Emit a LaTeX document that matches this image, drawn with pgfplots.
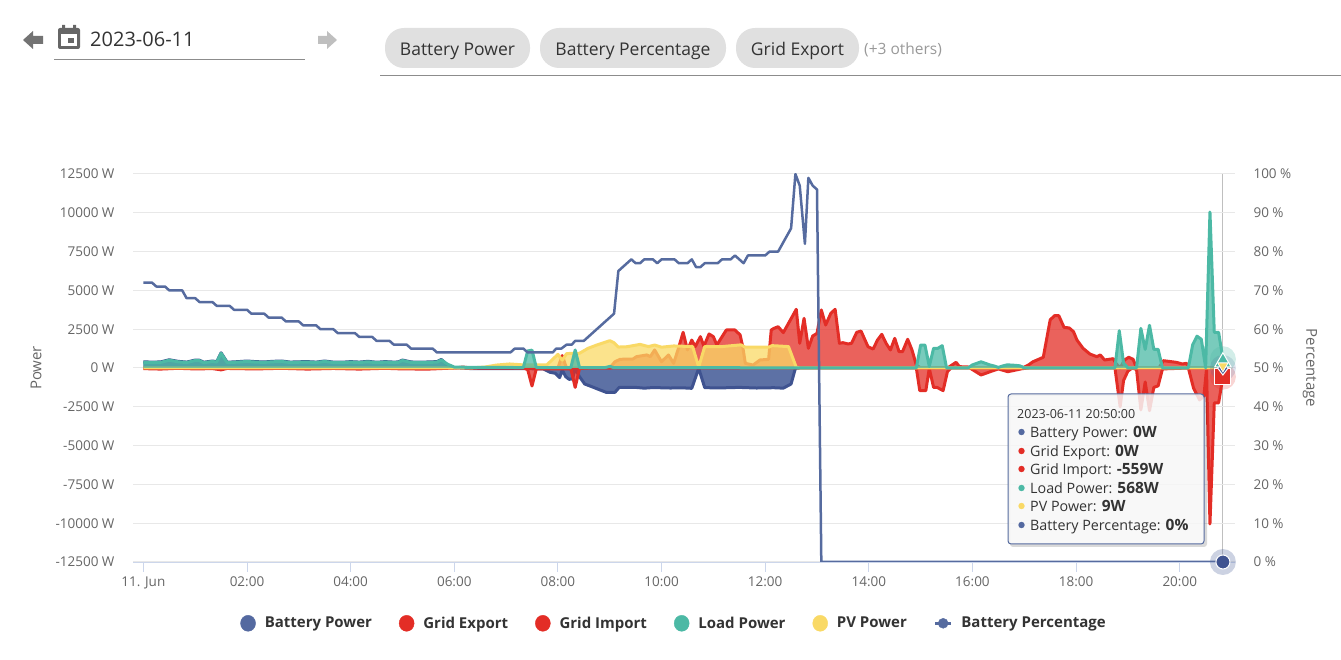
\documentclass[border=0pt]{standalone}
\usepackage{fontspec}
\setmainfont{Open Sans}
\usepackage{pgfplots}
\usepackage{pgfplotstable}
\pgfplotsset{compat=1.18}

\definecolor{cbat}{HTML}{5469A0}
\definecolor{cbatline}{HTML}{3F5390}
\definecolor{cred}{HTML}{E32D26}
\definecolor{cload}{HTML}{4CB9A5}
\definecolor{cpv}{HTML}{F9D966}
\definecolor{cpct}{HTML}{566B9F}
\definecolor{ctick}{HTML}{666666}
\definecolor{caxis}{HTML}{CCD6EB}
\definecolor{cgrid}{HTML}{E8E8E8}
\definecolor{ctext}{HTML}{333333}
\definecolor{cchip}{HTML}{E0E0E0}

% x is minutes after midnight, values in W
\pgfplotstableread[row sep=crcr]{
m w\\
0 395\\ 10 380\\ 20 390\\ 30 530\\ 40 430\\ 50 380\\ 60 510\\ 65 500\\ 70 370\\ 80 450\\ 85 410\\ 90 980\\ 97 370\\
110 410\\ 120 450\\ 130 410\\ 140 390\\ 150 430\\ 160 450\\ 170 380\\ 180 400\\ 190 410\\ 200 380\\ 210 450\\ 220 380\\
230 370\\ 240 410\\ 250 380\\ 260 430\\ 270 370\\ 280 410\\ 290 380\\ 295 390\\ 300 510\\ 310 390\\ 320 370\\ 330 390\\
340 410\\ 345 550\\ 352 200\\ 360 20\\ 380 -40\\ 440 -40\\ 463 -60\\ 471 -280\\ 477 -340\\ 482 -620\\ 485 -130\\ 489 -560\\
493 -730\\ 497 -700\\ 500 -40\\ 505 -560\\ 511 -1030\\ 519 -1200\\ 529 -1420\\ 536 -1570\\ 546 -1570\\ 551 -1250\\
570 -1250\\ 580 -1300\\ 590 -1260\\ 610 -1290\\ 625 -1280\\ 635 -1310\\ 643 -20\\ 650 -1270\\ 670 -1280\\ 690 -1250\\
710 -1290\\ 730 -1270\\ 741 -1300\\ 750 -1030\\ 755 -20\\ 760 0\\ 1250 0\\
}\tbat
\pgfplotstableread[row sep=crcr]{
m w\\
0 0\\ 360 0\\ 370 60\\ 380 0\\ 480 0\\ 485 800\\ 490 0\\ 540 0\\ 546 400\\ 552 560\\ 567 580\\ 571 730\\ 583 840\\ 587 730\\
592 1160\\ 600 400\\ 608 840\\ 614 300\\ 619 1160\\ 625 2300\\ 630 1160\\ 635 1800\\ 639 1375\\ 645 2020\\ 649 1400\\
655 2190\\ 660 2020\\ 664 1480\\ 675 2450\\ 685 2450\\ 691 2130\\ 694 1375\\ 697 300\\ 706 190\\ 714 515\\ 724 560\\
727 2450\\ 730 2550\\ 735 2660\\ 741 2280\\ 756 3780\\ 760 1590\\ 765 3200\\ 770 1270\\ 775 2060\\ 780 2230\\ 785 3740\\
790 2770\\ 796 3520\\ 801 3780\\ 806 1590\\ 810 1630\\ 816 1550\\ 820 1590\\ 826 2300\\ 831 2380\\ 839 1375\\ 845 1220\\
850 1800\\ 855 2170\\ 860 1590\\ 865 1160\\ 870 1910\\ 875 1050\\ 879 1050\\ 885 1850\\ 890 1160\\ 895 190\\ 900 0\\
932 30\\ 941 365\\ 945 85\\ 957 60\\ 965 0\\ 1018 0\\ 1025 200\\ 1030 400\\ 1042 690\\ 1050 3100\\ 1055 3370\\ 1060 3370\\
1066 2620\\ 1072 2580\\ 1077 2340\\ 1081 1800\\ 1088 1270\\ 1096 900\\ 1104 730\\ 1108 840\\ 1113 515\\ 1123 600\\ 1126 300\\
1131 0\\ 1134 300\\ 1136 515\\ 1141 690\\ 1146 560\\ 1150 0\\ 1176 0\\ 1181 470\\ 1196 365\\ 1203 260\\ 1208 300\\ 1211 0\\ 1250 0\\
}\texp
\pgfplotstableread[row sep=crcr]{
m w\\
0 -40\\ 20 -70\\ 40 -20\\ 60 -60\\ 80 -40\\ 90 -120\\ 97 -30\\ 130 -60\\ 160 -20\\ 190 -70\\ 220 -30\\ 250 -70\\ 280 -20\\
300 -60\\ 330 -70\\ 360 0\\ 440 0\\ 445 -100\\ 450 -1160\\ 455 -50\\ 495 -50\\ 500 -1250\\ 505 -30\\ 515 0\\ 895 0\\
899 -1460\\ 906 -1460\\ 910 -30\\ 915 -1250\\ 919 -1250\\ 926 -1460\\ 931 -240\\ 935 0\\ 957 0\\ 970 -450\\ 984 -170\\ 990 -60\\
1001 -240\\ 1018 -40\\ 1025 0\\ 1125 0\\ 1131 -2500\\ 1135 -800\\ 1140 -200\\ 1145 0\\ 1150 -100\\ 1155 -2700\\ 1160 -900\\
1165 -2750\\ 1170 -1250\\ 1175 -1150\\ 1180 -60\\ 1210 0\\ 1216 -1300\\ 1223 -2060\\ 1228 -1800\\ 1231 -60\\ 1235 -10050\\
1240 -2250\\ 1245 -2250\\ 1250 -559\\
}\timp
\pgfplotstableread[row sep=crcr]{
m w\\
0 10\\ 380 10\\ 395 60\\ 409 190\\ 424 260\\ 440 200\\ 455 200\\ 467 200\\ 471 400\\ 480 880\\ 485 500\\ 490 920\\ 495 945\\
500 950\\ 505 950\\ 515 1270\\ 525 1480\\ 540 1760\\ 545 1630\\ 550 1350\\ 560 1370\\ 575 1520\\ 585 1380\\ 592 1480\\
600 1340\\ 614 1420\\ 636 1380\\ 643 60\\ 650 1380\\ 670 1380\\ 692 1490\\ 697 1340\\ 724 1340\\ 728 1440\\ 747 1380\\
756 40\\ 760 10\\ 1250 9\\
}\tpv
\pgfplotstableread[row sep=crcr]{
m w\\
0 365\\ 10 350\\ 20 360\\ 30 500\\ 40 400\\ 50 350\\ 60 480\\ 65 470\\ 70 340\\ 80 420\\ 85 380\\ 90 950\\ 97 340\\
110 380\\ 120 420\\ 130 380\\ 140 360\\ 150 400\\ 160 420\\ 170 350\\ 180 370\\ 190 380\\ 200 350\\ 210 420\\ 220 350\\
230 340\\ 240 380\\ 250 350\\ 260 400\\ 270 340\\ 280 380\\ 290 350\\ 295 360\\ 300 480\\ 310 360\\ 320 340\\ 330 360\\
340 380\\ 345 520\\ 352 250\\ 360 60\\ 380 40\\ 440 30\\ 445 1100\\ 450 1150\\ 455 30\\ 495 30\\ 500 1160\\ 505 30\\ 535 30\\
540 100\\ 545 20\\ 890 10\\ 895 10\\ 900 1480\\ 905 1480\\ 910 100\\ 915 1270\\ 920 1270\\ 925 1440\\ 930 10\\ 955 10\\
960 200\\ 965 300\\ 970 400\\ 975 300\\ 980 200\\ 985 130\\ 990 40\\ 995 130\\ 1000 200\\ 1005 190\\ 1010 170\\ 1015 140\\
1020 10\\ 1125 10\\ 1130 2400\\ 1135 300\\ 1140 10\\ 1150 10\\ 1155 2550\\ 1160 1200\\ 1165 2750\\ 1170 1200\\ 1175 1200\\
1180 10\\ 1210 10\\ 1215 1500\\ 1220 2050\\ 1225 1850\\ 1230 10\\ 1235 10050\\ 1240 2300\\ 1245 2300\\ 1250 568\\
}\tload
\pgfplotstableread[row sep=crcr]{
m p\\
0 72\\ 10 72\\ 15 71\\ 25 71\\ 30 70\\ 45 70\\ 50 68\\ 60 68\\ 65 67\\ 80 67\\ 85 66\\ 100 66\\ 105 65\\ 120 65\\ 125 64\\ 140 64\\
145 63\\ 160 63\\ 165 62\\ 180 62\\ 185 61\\ 200 61\\ 205 60\\ 220 60\\ 225 59\\ 245 59\\ 250 58\\ 265 58\\ 270 57\\ 285 57\\
290 56\\ 305 56\\ 310 55\\ 335 55\\ 340 54\\ 425 54\\ 430 55\\ 440 55\\ 445 54\\ 474 54\\ 478 55\\ 484 55\\ 490 56\\ 496 56\\
500 57\\ 510 57\\ 545 64\\ 550 75\\ 565 78\\ 570 77\\ 575 77\\ 580 78\\ 590 78\\ 595 77\\ 600 78\\ 615 78\\ 620 77\\ 630 77\\
635 78\\ 640 76\\ 645 76\\ 650 77\\ 665 77\\ 670 78\\ 680 78\\ 685 79\\ 695 77\\ 700 79\\ 720 79\\ 725 80\\ 735 80\\ 750 86\\
755 100\\ 760 97\\ 766 82\\ 770 99\\ 775 97\\ 780 96\\ 785 0\\ 1250 0\\
}\tpct

% table, fill colour, line colour, fill opacity
\newcommand{\areaseries}[4]{%
  \addplot[forget plot,draw=none,fill=#2,fill opacity=#4] table[x=m,y=w] {#1} \closedcycle;
  \addplot[forget plot,#3,line width=3pt,line join=round,no marks] table[x=m,y=w] {#1};
}

\begin{document}
\begin{tikzpicture}
\path[use as bounding box] (0,0) rectangle (1341pt,660pt);
\draw[black!25,line width=1pt] (1222.5pt,98pt) -- (1222.5pt,486pt);
\begin{axis}[
  at={(133pt,98pt)}, anchor=south west,
  scale only axis, width=1102pt, height=388pt,
  xmin=-12, xmax=1264, ymin=-12500, ymax=12500,
  axis x line*=bottom, axis y line*=left,
  x axis line style={draw=caxis,-},
  y axis line style={draw=none},
  xtick={0,120,...,1200},
  xticklabels={11. Jun,02:00,04:00,06:00,08:00,10:00,12:00,14:00,16:00,18:00,20:00},
  scaled y ticks=false,
  ytick={-12500,-10000,...,12500},
  yticklabels={-12500 W,-10000 W,-7500 W,-5000 W,-2500 W,0 W,2500 W,5000 W,7500 W,10000 W,12500 W},
  ymajorgrids, grid style={cgrid,line width=1pt},
  xtick style={caxis,line width=1pt},
  ytick style={draw=none},
  major tick length=10pt, tick align=outside,
  tick label style={font=\fontsize{13.5}{15}\selectfont,text=ctick},
  xticklabel style={yshift=-1pt},
  yticklabel style={anchor=east,xshift=-5pt},
  ylabel={Power},
  ylabel style={at={(axis description cs:-0.088,0.5)},anchor=center,font=\fontsize{15}{17}\selectfont,text=ctick},
  legend style={at={(axis description cs:0.491,-0.158)},anchor=center,draw=none,fill=none,
    legend columns=-1,font=\fontsize{15}{17}\selectfont\bfseries,text=ctext,
    /tikz/every even column/.append style={column sep=25pt},
    /tikz/every odd column/.append style={column sep=7pt}},
  clip=false,
]
\addlegendimage{legend image code/.code={\fill[cbat] (0pt,0pt) ellipse (7.5pt and 8pt);}}
\addlegendentry{Battery Power}
\addlegendimage{legend image code/.code={\fill[cred] (0pt,0pt) ellipse (7.5pt and 8pt);}}
\addlegendentry{Grid Export}
\addlegendimage{legend image code/.code={\fill[cred] (0pt,0pt) ellipse (7.5pt and 8pt);}}
\addlegendentry{Grid Import}
\addlegendimage{legend image code/.code={\fill[cload] (0pt,0pt) ellipse (7.5pt and 8pt);}}
\addlegendentry{Load Power}
\addlegendimage{legend image code/.code={\fill[cpv] (0pt,0pt) ellipse (7.5pt and 8pt);}}
\addlegendentry{PV Power}
\addlegendimage{legend image code/.code={\draw[cpct,line width=2.5pt] (-8pt,0pt) -- (8pt,0pt);\fill[cpct] (0pt,0pt) circle (5pt);}}
\addlegendentry{Battery Percentage}

\areaseries{\tbat}{cbat}{cbatline}{.95}
\areaseries{\texp}{cred}{cred}{.75}
\areaseries{\timp}{cred}{cred}{.75}
\areaseries{\tpv}{cpv}{cpv}{.75}
\areaseries{\tload}{cload}{cload}{.75}

% hover state at 20:50
\addplot[forget plot,only marks,mark=*,mark size=13pt,mark options={draw opacity=0,fill=cred,fill opacity=.2}] coordinates {(1250,-559)};
\addplot[forget plot,only marks,mark=*,mark size=13pt,mark options={draw opacity=0,fill=cbat,fill opacity=.2}] coordinates {(1250,0)};
\addplot[forget plot,only marks,mark=*,mark size=13pt,mark options={draw opacity=0,fill=cload,fill opacity=.25}] coordinates {(1250,568)};
\addplot[forget plot,only marks,mark=square*,mark size=8pt,mark options={draw=white,line width=1pt,fill=cred}] coordinates {(1250,-559)};
\addplot[forget plot,only marks,mark=diamond*,mark size=7pt,mark options={draw=white,line width=1pt,fill=cbatline}] coordinates {(1250,0)};
\addplot[forget plot,only marks,mark=triangle*,mark size=9.5pt,mark options={draw=white,line width=1pt,fill=cload,yshift=-3pt}] coordinates {(1250,568)};
\addplot[forget plot,only marks,mark=triangle*,mark size=6pt,mark options={draw=white,line width=.8pt,fill=cpv,rotate=180,yshift=-2pt}] coordinates {(1250,9)};
\end{axis}

\begin{axis}[
  at={(133pt,98pt)}, anchor=south west,
  scale only axis, width=1102pt, height=388pt,
  xmin=-12, xmax=1264, ymin=0, ymax=100,
  axis x line=none, axis y line*=right,
  y axis line style={draw=none},
  ytick={0,10,...,100},
  yticklabels={0 \%,10 \%,20 \%,30 \%,40 \%,50 \%,60 \%,70 \%,80 \%,90 \%,100 \%},
  ytick style={draw=none},
  tick label style={font=\fontsize{13.5}{15}\selectfont,text=ctick},
  yticklabel style={anchor=west,xshift=15pt},
  ylabel={Percentage},
  ylabel style={at={(axis description cs:1.068,0.5)},anchor=center,rotate=180,font=\fontsize{15}{17}\selectfont,text=ctick},
  clip mode=individual,
]
\addplot[cpct,line width=2.5pt,line join=round,no marks] table[x=m,y=p] {\tpct};
\addplot[only marks,mark=*,mark size=13pt,mark options={draw opacity=0,fill=cpct,fill opacity=.3}] coordinates {(1250,0)};
\addplot[only marks,mark=*,mark size=7pt,mark options={draw=white,line width=1pt,fill=cbatline}] coordinates {(1250,0)};
\end{axis}

% page furniture and tooltip, in image pixel coordinates
\begin{scope}[x=1pt,y=-1pt,yshift=660pt]
% date picker
\fill[black!55] (23,40) -- (33,31) -- (33,36) -- (43,36) -- (43,44) -- (33,44) -- (33,49) -- cycle;
\fill[black!25] (337,40) -- (327,31) -- (327,36) -- (318,36) -- (318,44) -- (327,44) -- (327,49) -- cycle;
\fill[black!60,rounded corners=2pt] (58,28) rectangle (80,49);
\fill[black!60] (62,25) rectangle (65,30) (73,25) rectangle (76,30);
\fill[white] (61,34) rectangle (77,46);
\fill[black!60] (68,38) rectangle (74,43);
\node[anchor=base west,inner sep=0pt,font=\fontsize{20}{24}\selectfont,text=ctext] at (90,46.5) {2023-06-11};
\draw[black!45,line width=1pt] (54,59.5) -- (305,59.5);
% selected series
\fill[cchip,rounded corners=19pt] (385,28) rectangle (530,68);
\fill[cchip,rounded corners=19pt] (540,28) rectangle (726,68);
\fill[cchip,rounded corners=19pt] (736,28) rectangle (859,68);
\node[inner sep=0pt,anchor=base,font=\fontsize{17.5}{20}\selectfont,text=ctext] at (457.5,55.5) {Battery Power};
\node[inner sep=0pt,anchor=base,font=\fontsize{17.5}{20}\selectfont,text=ctext] at (633,55.5) {Battery Percentage};
\node[inner sep=0pt,anchor=base,font=\fontsize{17.5}{20}\selectfont,text=ctext] at (797.5,55.5) {Grid Export};
\node[inner sep=0pt,anchor=base west,font=\fontsize{15.5}{17}\selectfont,text=black!40] at (864,55) {(+3 others)};
\draw[black!45,line width=1pt] (380,75.5) -- (1341,75.5);
% tooltip
\fill[black,opacity=.15,even odd rule,rounded corners=3pt] (1010,396) rectangle (1207,547) (1008,394) rectangle (1204,544);
\filldraw[draw=cpct,line width=1pt,fill=black!3,fill opacity=.85,rounded corners=3pt] (1008,394) rectangle (1204,544);
\node[inner sep=0pt,anchor=base west,font=\fontsize{12.5}{14}\selectfont,text=ctext] at (1017,418.5) {2023-06-11 20:50:00};
\foreach \yy/\cc/\aa/\bb in {437.5/cbat/Battery Power:/0W,456.5/cred/Grid Export:/0W,474.5/cred/Grid Import:/-559W,493.5/cload/Load Power:/568W,511.5/cpv/PV Power:/9W,530.5/cbat/Battery Percentage:/0\%}{
  \fill[\cc] (1021.5,\yy-5.5) circle (3.2pt);
  \node[inner sep=0pt,anchor=base west,font=\fontsize{14.3}{16}\selectfont,text=ctext] at (1030,\yy) {\aa{} \textbf{\fontsize{15.5}{16}\selectfont\bb}};
}
\end{scope}
\end{tikzpicture}
\end{document}
